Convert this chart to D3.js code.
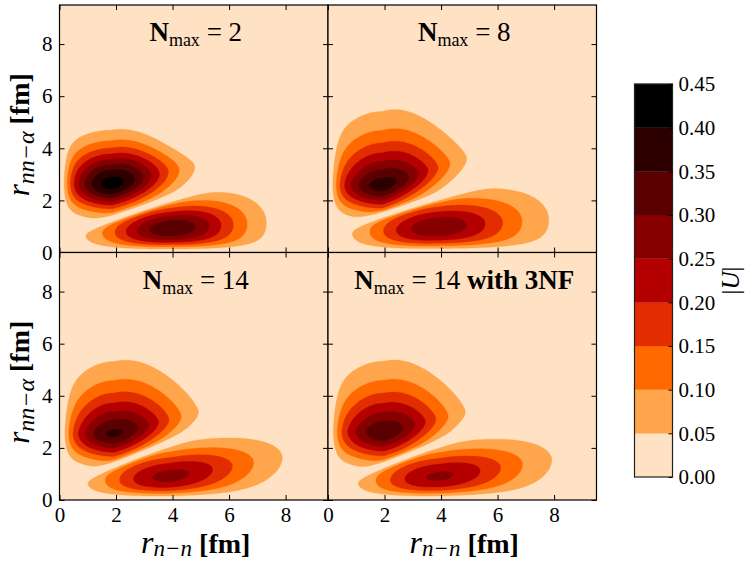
<!DOCTYPE html>
<html><head><meta charset="utf-8">
<script src="https://cdn.jsdelivr.net/npm/d3@7"></script>
<style>body{margin:0;background:#fff} svg{display:block}</style>
</head><body>
<svg id="chart" width="747" height="561"></svg>
<script>
// ---------------- data ----------------
const panelNmax = ["2", "8", "14", "14"];
const panelSuffix = ["", "", "", " with 3NF"];
const levels = [0, 0.05, 0.10, 0.15, 0.20, 0.25, 0.30, 0.35, 0.40, 0.45];
const levelColors = ["#ffe1c3", "#ffa54b", "#ff6900", "#e12d00", "#b40000", "#870000", "#5a0000", "#2d0000", "#000000"];
const axisTicks = [0, 2, 4, 6, 8];
const colorbarTicks = [0, 0.05, 0.10, 0.15, 0.20, 0.25, 0.30, 0.35, 0.40, 0.45];

// upper lobe (r_nn-alpha ~ 2.6 fm) per panel
const upperCenterX    = [1.85, 1.93, 1.93, 1.98];
const upperCenterY    = [2.64, 2.60, 2.57, 2.64];
const upperPeak       = [0.42, 0.375, 0.36, 0.34];
const upperWidthLeft  = [1.18, 1.27, 1.20, 1.28];
const upperWidthRight = [1.37, 1.43, 1.45, 1.42];
const upperShapeRight = [1.9, 1.9, 1.9, 1.9];
const upperWidthDown  = [0.67, 0.67, 0.68, 0.74];
const upperWidthUp    = [0.92, 1.04, 1.03, 1.03];
const upperShapeUp    = [1.8, 1.4, 1.4, 1.4];
const upperTilt       = [0.22, 0.345, 0.27, 0.26];
const upperTaperUp    = [0.085, 0.05, 0.03, 0.035];
const upperTaperDown  = [0.02, 0.02, 0.04, 0.05];

// lower lobe (r_nn-alpha ~ 0.9 fm) per panel
const lowerCenterX    = [3.95, 3.93, 3.93, 3.96];
const lowerCenterY    = [0.93, 0.98, 0.90, 0.89];
const lowerPeak       = [0.34, 0.29, 0.267, 0.26];
const lowerWidthLeft  = [1.57, 1.75, 1.72, 1.71];
const lowerShapeLeft  = [2.0, 2.2, 2.2, 2.2];
const lowerWidthRight = [1.72, 1.93, 2.02, 2.04];
const lowerShapeRight = [2.0, 1.8, 1.8, 1.8];
const lowerWidthDown  = [0.73, 0.76, 0.74, 0.74];
const lowerWidthUp    = [0.61, 0.68, 0.68, 0.68];
const lowerTiltLeft   = [0.10, 0.10, 0.10, 0.10];
const lowerTiltRight  = [0.06, 0.07, 0.18, 0.16];
const lowerTaper      = [-0.127, -0.113, -0.035, -0.04];

// node line separating the two lobes (y = a + b x)
const nodeIntercept = [0.60, 0.77, 0.51, 0.51];
const nodeSlope     = [0.37, 0.345, 0.43, 0.42];

// ---------------- layout ----------------
const FONT = "'Liberation Serif','DejaVu Serif',serif";
const svg = d3.select("#chart");
const panelLeft = [59.5, 328];
const panelTop = [5, 252.5];
const pw = 268.5, ph = 247.5;
const xMax = 9.5, yMax = 9.5;

function lobeValue(x, y, p) {
  const u = x - p.cx;
  const k = u < 0 ? p.kL : p.kR;
  const v = y - p.cy - k * u;
  const su = u < 0 ? p.sL : p.sR, pu = u < 0 ? p.pL : p.pR;
  let sv, pv;
  if (v < 0) { sv = p.sD * (u > 0 ? Math.exp(-p.gD * Math.pow(u, p.tp)) : 1); pv = 2; }
  else { sv = p.sU * (u > 0 ? Math.exp(-p.gU * Math.pow(u, p.tp)) : 1); pv = p.pU; }
  return p.A * Math.exp(-0.5 * Math.pow(Math.abs(u) / su, pu) - 0.5 * Math.pow(Math.abs(v) / sv, pv));
}
function edge(t) { return t <= 0 ? 0 : 1 - Math.exp(-Math.pow(t / 0.3, 1.5)); }
function nodeFactor(x, y, a, b) { const d = (y - a - b * x) / 0.15; return 1 - Math.exp(-d * d); }

const N = 240;
const step = xMax / (N - 1);

for (let i = 0; i < 4; i++) {
  const col = i % 2, row = Math.floor(i / 2);
  const x0 = panelLeft[col], y0 = panelTop[row];
  const xs = d3.scaleLinear().domain([0, xMax]).range([x0, x0 + pw]);
  const ys = d3.scaleLinear().domain([0, yMax]).range([y0 + ph, y0]);

  const up = {cx: upperCenterX[i], cy: upperCenterY[i], A: upperPeak[i], sL: upperWidthLeft[i], sR: upperWidthRight[i],
    pL: 2, pR: upperShapeRight[i], sD: upperWidthDown[i], sU: upperWidthUp[i], pU: upperShapeUp[i],
    kL: 0, kR: upperTilt[i], gU: upperTaperUp[i], gD: upperTaperDown[i], tp: 2};
  const lo = {cx: lowerCenterX[i], cy: lowerCenterY[i], A: lowerPeak[i], sL: lowerWidthLeft[i], sR: lowerWidthRight[i],
    pL: lowerShapeLeft[i], pR: lowerShapeRight[i], sD: lowerWidthDown[i], sU: lowerWidthUp[i], pU: 2,
    kL: lowerTiltLeft[i], kR: lowerTiltRight[i], gU: lowerTaper[i], gD: lowerTaper[i], tp: 1};

  const values = new Float64Array(N * N);
  for (let r = 0; r < N; r++) {
    const y = r * step;
    for (let c = 0; c < N; c++) {
      const x = c * step;
      values[r * N + c] = Math.max(lobeValue(x, y, up), lobeValue(x, y, lo)) * edge(x) * edge(y)
        * nodeFactor(x, y, nodeIntercept[i], nodeSlope[i]);
    }
  }
  const contours = d3.contours().size([N, N]).thresholds(levels.slice(1, -1))(values);
  const proj = d3.geoTransform({
    point: function(gx, gy) { this.stream.point(xs((gx - 0.5) * step), ys((gy - 0.5) * step)); }
  });
  const path = d3.geoPath(proj);

  const clipId = "clip" + i;
  svg.append("clipPath").attr("id", clipId).append("rect")
    .attr("x", x0).attr("y", y0).attr("width", pw).attr("height", ph);
  const g = svg.append("g").attr("clip-path", `url(#${clipId})`);
  g.append("rect").attr("x", x0).attr("y", y0).attr("width", pw).attr("height", ph).attr("fill", levelColors[0]);
  g.selectAll("path").data(contours).join("path")
    .attr("d", path)
    .attr("fill", (d, j) => levelColors[j + 1])
    .attr("stroke", (d, j) => levelColors[j + 1]).attr("stroke-width", 0.3);

  // axes (inward ticks on all sides)
  const mk = (axis, tr, labels) => {
    const a = svg.append("g").attr("transform", tr)
      .call(axis.tickValues(axisTicks).tickSize(-5).tickPadding(7).tickFormat(labels ? d3.format("d") : ""));
    a.select(".domain").remove();
    a.selectAll("line").attr("stroke", "#000").attr("stroke-width", 1);
    a.selectAll("text").attr("font-family", FONT).attr("font-size", 21).attr("fill", "#000");
    return a;
  };
  mk(d3.axisBottom(xs), `translate(0,${y0 + ph})`, row === 1);
  mk(d3.axisTop(xs), `translate(0,${y0})`, false);
  mk(d3.axisLeft(ys), `translate(${x0},0)`, col === 0);
  mk(d3.axisRight(ys), `translate(${x0 + pw},0)`, false);

  // title
  const t = svg.append("text").attr("x", x0 + pw / 2 + 2).attr("y", y0 + 36)
    .attr("text-anchor", "middle").attr("font-family", FONT).attr("font-size", 27).attr("fill", "#000");
  t.append("tspan").attr("font-weight", "bold").text("N");
  t.append("tspan").attr("font-size", 18).attr("dy", 5).text("max");
  t.append("tspan").attr("dy", -5).text(" = " + panelNmax[i]);
  if (panelSuffix[i]) t.append("tspan").attr("font-weight", "bold").text(panelSuffix[i]);

  // frame
  svg.append("rect").attr("x", x0).attr("y", y0).attr("width", pw).attr("height", ph)
    .attr("fill", "none").attr("stroke", "#000").attr("stroke-width", 1.2);

  // axis labels
  if (col === 0) {
    const yl = svg.append("text").attr("transform", `translate(29,${y0 + ph / 2 + 6}) rotate(-90)`)
      .attr("text-anchor", "middle").attr("font-family", FONT).attr("font-size", 27).attr("fill", "#000");
    yl.append("tspan").attr("font-style", "italic").attr("font-size", 31).text("r");
    yl.append("tspan").attr("font-style", "italic").attr("font-size", 24).attr("dy", 5).text("nn\u2212\u03b1");
    yl.append("tspan").attr("dy", -5).attr("font-weight", "bold").attr("font-size", 28).text(" [fm]");
  }
  if (row === 1) {
    const xl = svg.append("text").attr("x", x0 + pw / 2 + 2).attr("y", 553)
      .attr("text-anchor", "middle").attr("font-family", FONT).attr("font-size", 27).attr("fill", "#000");
    xl.append("tspan").attr("font-style", "italic").attr("font-size", 32).text("r");
    xl.append("tspan").attr("font-style", "italic").attr("font-size", 23).attr("dy", 3).text("n\u2212n");
    xl.append("tspan").attr("dy", -3).attr("font-weight", "bold").attr("font-size", 28).text(" [fm]");
  }
}

// ---------------- colorbar ----------------
const cbX = 634.5, cbW = 38;
const cy = d3.scaleLinear().domain([0, 0.45]).range([477, 84]);
const cb = svg.append("g");
cb.selectAll("rect").data(levelColors).join("rect")
  .attr("x", cbX).attr("width", cbW)
  .attr("y", (d, j) => cy(levels[j + 1]))
  .attr("height", (d, j) => cy(levels[j]) - cy(levels[j + 1]))
  .attr("fill", d => d).attr("stroke", d => d).attr("stroke-width", 0.3);
cb.append("rect").attr("x", cbX).attr("y", cy(0.45)).attr("width", cbW).attr("height", cy(0) - cy(0.45))
  .attr("fill", "none").attr("stroke", "#222").attr("stroke-width", 1.2);
const cba = svg.append("g").attr("transform", `translate(${cbX + cbW},0)`)
  .call(d3.axisRight(cy).tickValues(colorbarTicks).tickSize(-4).tickPadding(6).tickFormat(d3.format(".2f")));
cba.select(".domain").remove();
cba.selectAll("line").attr("stroke", "#000");
cba.selectAll("text").attr("font-family", FONT).attr("font-size", 21).attr("fill", "#000");

const ul = svg.append("text").attr("transform", `translate(739,${(cy(0) + cy(0.45)) / 2}) rotate(-90)`)
  .attr("text-anchor", "middle").attr("font-family", FONT).attr("font-size", 25).attr("fill", "#000");
ul.append("tspan").text("|");
ul.append("tspan").attr("font-style", "italic").text("U");
ul.append("tspan").text("|");
</script>
</body></html>
